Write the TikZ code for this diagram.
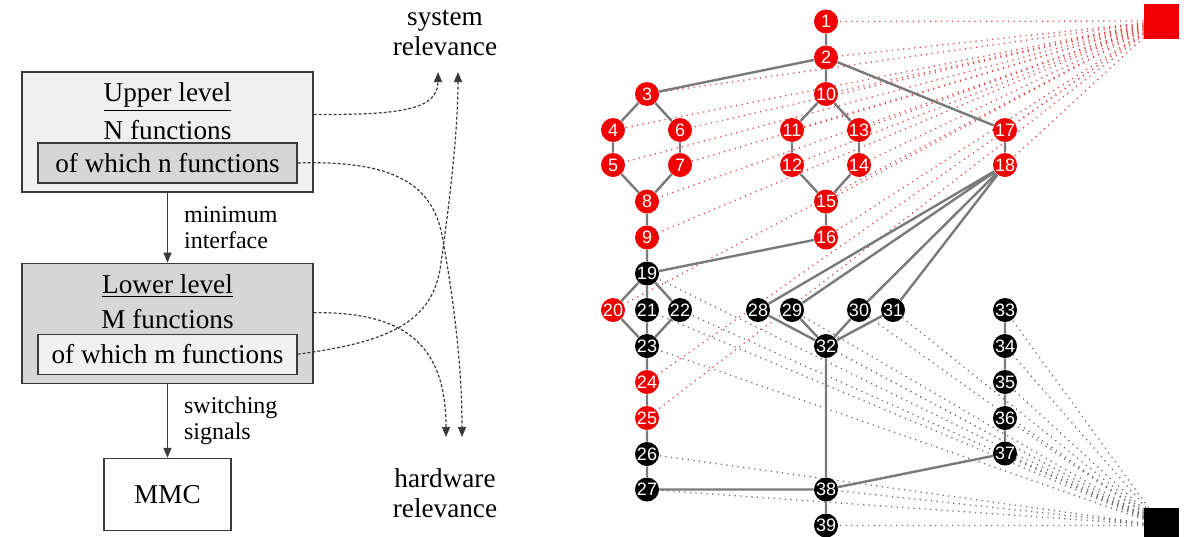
\documentclass[tikz,border=0pt]{standalone}
\usepackage{fontspec}
\setmainfont{Liberation Serif}
\setsansfont{Liberation Sans}
\usetikzlibrary{arrows.meta,positioning,backgrounds,calc}
\definecolor{fnred}{HTML}{F00000}
\definecolor{edge}{HTML}{7A7A7A}
\definecolor{frame}{HTML}{3A3A3A}
\definecolor{light}{HTML}{F0F0F0}
\definecolor{mid}{HTML}{D6D6D6}
\definecolor{reddot}{HTML}{E84848}
\definecolor{graydot}{HTML}{6E6E6E}
\tikzset{
  txt/.style={font=\fontsize{13.6}{15}\selectfont,align=center,inner sep=0pt},
  note/.style={font=\fontsize{12}{13}\selectfont,align=left,inner sep=0pt},
  tierbox/.style={draw=frame,line width=0.6pt,minimum width=145.5pt,minimum height=60pt,inner sep=0pt},
  subset/.style={txt,draw=frame,line width=0.6pt,minimum width=129.5pt,minimum height=20pt},
  flow/.style={-{Triangle[length=5pt,width=4pt]},draw=frame,line width=0.6pt},
  rel/.style={-{Triangle[length=5pt,width=4pt]},draw=frame,line width=0.6pt,dashed,dash pattern=on 1.5pt off 1pt},
  fn/.style={circle,minimum size=12pt,inner sep=0pt,text=white,font=\sffamily\fontsize{9}{9}\selectfont},
  rfn/.style={fn,fill=fnred},
  bfn/.style={fn,fill=black},
  sink/.style={rectangle,minimum size=17.5pt,inner sep=0pt},
  link/.style={draw=edge,line width=1.2pt},
  rdot/.style={draw=reddot,line width=0.65pt,dash pattern=on 0.6pt off 2.2pt},
  bdot/.style={draw=graydot,line width=0.65pt,dash pattern=on 0.6pt off 2.2pt}
}

\begin{document}
\begin{tikzpicture}[x=0.5pt,y=-0.5pt]
\useasboundingbox (0,0) rectangle (1194,536);

% hierarchy of the control
\node[tierbox,fill=light] (upper) at (167.5,132) {};
\node[subset,fill=mid,above=4.5pt of upper.south,anchor=south] (subn) {of which n functions};
\node[txt] (uptitle) at (167.5,97) {\underline{Upper level}};
\node[txt] (upcount) at (167.5,130) {N functions};

\node[tierbox,fill=mid,below=35pt of upper] (lower) {};
\node[subset,fill=light,above=4.5pt of lower.south,anchor=south] (subm) {of which m functions};
\node[txt] (lowtitle) at (167.5,286) {\underline{Lower level}};
\node[txt] (lowcount) at (167.5,319) {M functions};

\node[txt,draw=frame,line width=0.6pt,fill=white,minimum width=63.5pt,minimum height=36pt,below=37pt of lower] (mmc) {MMC};

\node[txt] (sysrel) at (445,33) {system\\relevance};
\node[txt] (hwrel) at (445,493) {hardware\\relevance};
\coordinate (sysA) at (438,72);
\coordinate (sysB) at (458,72);
\coordinate (hwA) at (446,437);
\coordinate (hwB) at (462,437);

\draw[flow] (upper) -- node[note,right=8pt]{minimum\\interface} (lower);
\draw[flow] (lower) -- node[note,right=8pt]{switching\\signals} (mmc);

\draw[rel] ($(upper.north east)+(0,43)$) .. controls (400,115) and (438,110) .. (sysA);
\draw[rel] (subn.east) .. controls (395,160) and (432,185) .. (442,235) .. controls (452,290) and (462,360) .. (hwB);
\draw[rel] ($(lower.north east)+(0,50)$) .. controls (400,312) and (446,340) .. (hwA);
\draw[rel] (subm.east) .. controls (390,342) and (430,322) .. (440,270) .. controls (450,200) and (458,130) .. (sysB);

% function graph
\node[rfn] (n1) at (826,21.5) {1};
\node[rfn] (n2) at (826,57.5) {2};
\node[rfn] (n3) at (647,94) {3};
\node[rfn] (n4) at (613,130) {4};
\node[rfn] (n5) at (613,165) {5};
\node[rfn] (n6) at (680,130) {6};
\node[rfn] (n7) at (680,165) {7};
\node[rfn] (n8) at (647,201.5) {8};
\node[rfn] (n9) at (647,237.5) {9};
\node[rfn] (n10) at (826,94) {10};
\node[rfn] (n11) at (792,130) {11};
\node[rfn] (n12) at (792,165) {12};
\node[rfn] (n13) at (859,130) {13};
\node[rfn] (n14) at (859,165) {14};
\node[rfn] (n15) at (826,201.5) {15};
\node[rfn] (n16) at (826,237.5) {16};
\node[rfn] (n17) at (1005,130) {17};
\node[rfn] (n18) at (1005,165) {18};
\node[bfn] (n19) at (647,273.5) {19};
\node[rfn] (n20) at (613,310) {20};
\node[bfn] (n21) at (647,310) {21};
\node[bfn] (n22) at (680,310) {22};
\node[bfn] (n23) at (647,346) {23};
\node[rfn] (n24) at (647,382) {24};
\node[rfn] (n25) at (647,418) {25};
\node[bfn] (n26) at (647,454) {26};
\node[bfn] (n27) at (647,489.5) {27};
\node[bfn] (n28) at (758,310) {28};
\node[bfn] (n29) at (792,310) {29};
\node[bfn] (n30) at (859,310) {30};
\node[bfn] (n31) at (893,310) {31};
\node[bfn] (n32) at (826,346) {32};
\node[bfn] (n33) at (1005,310) {33};
\node[bfn] (n34) at (1005,346) {34};
\node[bfn] (n35) at (1005,382) {35};
\node[bfn] (n36) at (1005,418) {36};
\node[bfn] (n37) at (1005,453.5) {37};
\node[bfn] (n38) at (826,489.5) {38};
\node[bfn] (n39) at (826,525.5) {39};

\node[sink,fill=fnred] (redsq) at (1161.5,21) {};
\node[sink,fill=black] (blksq) at (1161.5,525.5) {};

\begin{scope}[on background layer]
\draw[rdot] (redsq) -- (n1) (redsq) -- (n2) (redsq) -- (n3) (redsq) -- (n4)
  (redsq) -- (n5) (redsq) -- (n6) (redsq) -- (n7) (redsq) -- (n8)
  (redsq) -- (n9) (redsq) -- (n10) (redsq) -- (n11) (redsq) -- (n12)
  (redsq) -- (n13) (redsq) -- (n14) (redsq) -- (n15) (redsq) -- (n16)
  (redsq) -- (n17) (redsq) -- (n18) (redsq) -- (n20) (redsq) -- (n24)
  (redsq) -- (n25);
\draw[bdot] (blksq) -- (n19) (blksq) -- (n21) (blksq) -- (n22) (blksq) -- (n23)
  (blksq) -- (n26) (blksq) -- (n27) (blksq) -- (n28) (blksq) -- (n29)
  (blksq) -- (n30) (blksq) -- (n31) (blksq) -- (n32) (blksq) -- (n33)
  (blksq) -- (n34) (blksq) -- (n35) (blksq) -- (n36) (blksq) -- (n37)
  (blksq) -- (n38) (blksq) -- (n39);
\draw[link] (n1) -- (n2) (n2) -- (n3) (n2) -- (n10) (n2) -- (n17)
  (n3) -- (n4) (n3) -- (n6) (n4) -- (n5) (n6) -- (n7) (n5) -- (n8) (n7) -- (n8)
  (n8) -- (n9) (n9) -- (n19)
  (n10) -- (n11) (n10) -- (n13) (n11) -- (n12) (n13) -- (n14)
  (n12) -- (n15) (n14) -- (n15) (n15) -- (n16) (n16) -- (n19)
  (n17) -- (n18) (n18) -- (n28) (n18) -- (n29) (n18) -- (n30) (n18) -- (n31)
  (n19) -- (n20) (n19) -- (n21) (n19) -- (n22)
  (n20) -- (n23) (n21) -- (n23) (n22) -- (n23)
  (n23) -- (n24) (n24) -- (n25) (n25) -- (n26) (n26) -- (n27) (n27) -- (n38)
  (n28) -- (n32) (n29) -- (n32) (n30) -- (n32) (n31) -- (n32)
  (n32) -- (n38) (n38) -- (n39)
  (n33) -- (n34) (n34) -- (n35) (n35) -- (n36) (n36) -- (n37) (n37) -- (n38);
\end{scope}
\end{tikzpicture}
\end{document}
